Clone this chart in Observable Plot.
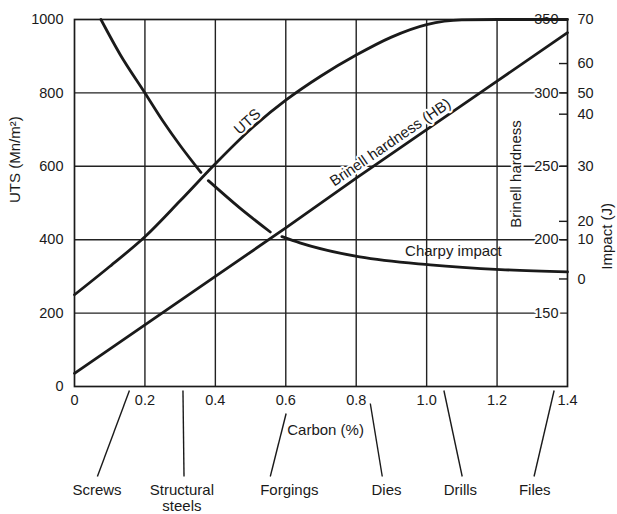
<!DOCTYPE html>
<html><head><meta charset="utf-8">
<script src="https://cdn.jsdelivr.net/npm/d3@7"></script>
<script src="https://cdn.jsdelivr.net/npm/@observablehq/plot@0.6"></script>
<style>
body{margin:0;background:#fff}
#chart svg{font-family:"Liberation Sans",Arial,Helvetica,sans-serif}
</style>
</head><body><div id="chart"></div>
<script>
// ---- data ----
const carbonTicks = [0, 0.2, 0.4, 0.6, 0.8, 1.0, 1.2, 1.4];
const utsTicks = [0, 200, 400, 600, 800, 1000];
const hbTicks = [150, 200, 250, 300, 350];
const impactTicks = [0, 10, 20, 30, 40, 50, 60, 70];
// where the (non-uniform) Impact axis places each tick, read against the UTS scale
const impactTickUTS = [293, 400, 450, 600, 742, 800, 880, 1000];

const utsCarbon = [0, 0.1, 0.2, 0.3, 0.4, 0.5, 0.6, 0.7, 0.8, 0.9, 1.0, 1.1, 1.2, 1.3, 1.4];
const utsValues = [250, 327, 408, 506, 607, 701, 780, 846, 903, 952, 986, 999, 1000, 1000, 1000];

const hbCarbon = [0, 0.2, 0.4, 0.6, 0.8, 1.0, 1.2, 1.4];
const hbValues = [109, 142, 175, 208, 242, 275, 308, 341];

// Charpy impact (J); nulls are the gaps where the curve passes under UTS and HB
const charpyCarbon = [0.075, 0.13, 0.2, 0.25, 0.3, 0.359, null, 0.38, 0.47, 0.556, null, 0.589, 0.64, 0.81, 1.01, 1.21, 1.4];
const charpyValues = [70, 62, 50, 38.8, 34.0, 28.9, null, 27.4, 22.4, 14.2, null, 11.7, 9.2, 5.6, 3.6, 2.4, 1.8];

const appNames = ["Screws", "Structural\nsteels", "Forgings", "Dies", "Drills", "Files"];
const appCarbon = [0.156, 0.308, 0.601, 0.84, 1.049, 1.362];
const appLineEnd = [0.065, 0.311, 0.556, 0.874, 1.101, 1.305];
const appLabelCarbon = [0.064, 0.305, 0.61, 0.886, 1.096, 1.307];

// ---- layout ----
const W = 617, H = 514, mL = 74, mR = 50, mT = 19, mB = 128;
const unitsPerPx = 1000 / (H - mB - mT);
const below = px => -px * unitsPerPx; // pixels under the x axis, in UTS units
const ink = "#1a1a1a";

const impactToUTS = d3.scaleLinear().domain(impactTicks).range(impactTickUTS);
const hbToUTS = d3.scaleLinear().domain([150, 350]).range([200, 1000]);

const uts = utsCarbon.map((c, i) => ({c, v: utsValues[i]}));
const hb = hbCarbon.map((c, i) => ({c, v: hbToUTS(hbValues[i])}));
const charpy = charpyCarbon.map((c, i) => ({c, v: charpyValues[i] == null ? NaN : impactToUTS(charpyValues[i])}));
const apps = appNames.map((name, i) => ({name, c: appCarbon[i], e: appLineEnd[i], l: appLabelCarbon[i]}));
const leaderTop = {"Forgings": 27, "Dies": 17};

const plot = Plot.plot({
  width: W, height: H,
  marginLeft: mL, marginRight: mR, marginTop: mT, marginBottom: mB,
  style: {fontFamily: "Liberation Sans, Arial, Helvetica, sans-serif", background: "#fff", color: ink},
  x: {domain: [0, 1.4], axis: null},
  y: {domain: [0, 1000], axis: null},
  marks: [
    Plot.ruleX(carbonTicks.slice(1, -1), {stroke: "#222", strokeWidth: 1.4}),
    Plot.ruleY(utsTicks.slice(1, -1), {stroke: "#222", strokeWidth: 1.4}),
    Plot.frame({stroke: ink, strokeWidth: 1.7}),
    // Brinell hardness axis title + labels (white backing over gridlines)
    Plot.text(["Brinell hardness"], {x: () => 1.4, y: () => 579, dx: -51, rotate: -90, fontSize: 15, fill: ink,
      stroke: "white", strokeWidth: 5, paintOrder: "stroke"}),
    Plot.text(hbTicks, {x: () => 1.4, y: d => hbToUTS(d), text: d => String(d), textAnchor: "end", dx: -9,
      fontSize: 14.5, fill: ink, stroke: "white", strokeWidth: 4, paintOrder: "stroke"}),
    Plot.ruleY(impactTicks, {y: d => impactToUTS(d), x1: () => 1.4 - 8 / 352, x2: () => 1.4, stroke: ink, strokeWidth: 1.4}),
    Plot.text(impactTicks, {x: () => 1.4, y: d => impactToUTS(d), text: d => String(d), textAnchor: "start", dx: 10,
      fontSize: 14.5, fill: ink}),
    Plot.text(["Impact (J)"], {frameAnchor: "right", dx: 40, dy: 0, rotate: -90, fontSize: 15, fill: ink}),
    // curves
    Plot.line(hb, {x: "c", y: "v", stroke: ink, strokeWidth: 2.8}),
    Plot.line(uts, {x: "c", y: "v", stroke: ink, strokeWidth: 2.8, curve: "monotone-x"}),
    Plot.line(charpy, {x: "c", y: "v", stroke: ink, strokeWidth: 2.8, curve: "monotone-x"}),
    // curve labels
    Plot.text(["UTS"], {x: () => 0.491, y: () => 722, rotate: -42, fontSize: 15, fill: ink,
      stroke: "white", strokeWidth: 4, paintOrder: "stroke"}),
    Plot.text(["Brinell hardness (HB)"], {x: () => 0.897, y: () => 665, rotate: -34.5, fontSize: 15, fill: ink,
      stroke: "white", strokeWidth: 4, paintOrder: "stroke"}),
    Plot.text(["Charpy impact"], {x: () => 1.076, y: () => 370, fontSize: 15, fill: ink}),
    // left axis
    Plot.text(utsTicks, {x: () => 0, y: d => d, text: d => String(d), textAnchor: "end", dx: -11, fontSize: 14.5, fill: ink}),
    Plot.text(["UTS (Mn/m²)"], {frameAnchor: "left", dx: -59, rotate: -90, fontSize: 15, fill: ink}),
    // bottom axis
    Plot.text(carbonTicks, {x: d => d, frameAnchor: "bottom", dy: 18, text: d => d === 0 ? "0" : d.toFixed(1), fontSize: 14.5, fill: ink}),
    Plot.text(["Carbon (%)"], {x: () => 0.713, frameAnchor: "bottom", dy: 48, fontSize: 15, fill: ink}),
    // applications
    Plot.link(apps, {x1: "c", x2: "e", y1: d => below(leaderTop[d.name] ?? 4), y2: () => below(90), stroke: ink, strokeWidth: 1.4}),
    Plot.text(apps, {x: "l", frameAnchor: "bottom", dy: 97.5, text: "name", lineAnchor: "top", lineHeight: 1.07, fontSize: 15, fill: ink})
  ]
});
document.getElementById("chart").appendChild(plot);
</script>
</body></html>
